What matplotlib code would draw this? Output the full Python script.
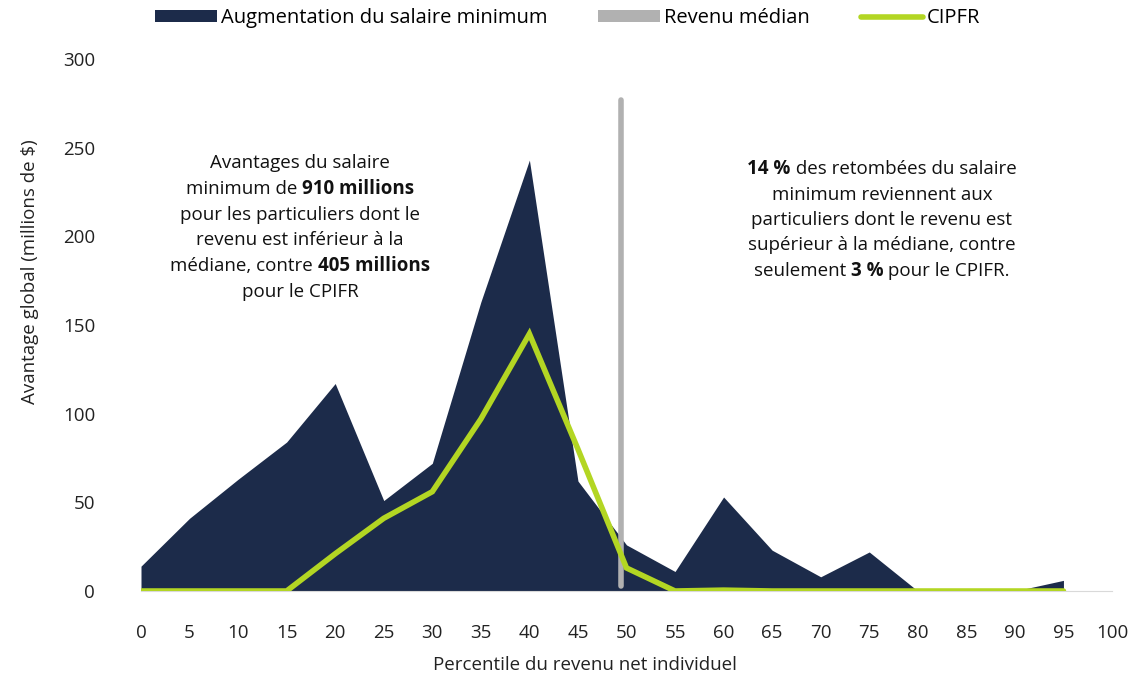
import numpy as np
import matplotlib
matplotlib.use("Agg")
import matplotlib.pyplot as plt
from matplotlib.offsetbox import TextArea, HPacker, VPacker, AnnotationBbox
from matplotlib.patches import Patch
from matplotlib.lines import Line2D

matplotlib.rcParams['font.family'] = ['Open Sans', 'DejaVu Sans']
matplotlib.rcParams['font.size'] = 13.5

# percentiles
pct = [0, 5, 10, 15, 20, 25, 30, 35, 40, 45, 50, 55, 60, 65, 70, 75, 80, 85, 90, 95]
# minimum wage benefit (millions $)
salaire_min = [14, 41, 63, 84, 117, 51, 72, 163, 243, 62, 26, 11, 53, 23, 8, 22, 0, 1, 0, 6]
# CIPFR benefit
cipfr = [0, 0, 0, 0, 21, 41, 56, 97, 145, 80, 13, 0, 0.5, 0, 0, 0, 0, 0, 0, 0]
median_pct = 49.4
median_span = (3, 277)

navy = '#1c2b4a'
green = '#b3d623'
grey = '#b1b1b1'
fs = 13.5

fig = plt.figure(figsize=(11.42, 6.76), dpi=100)
ax = fig.add_axes([141/1142, 1 - 591/676, (1112-141)/1142, (591-59)/676])

ax.fill_between(pct, salaire_min, 0, color=navy, linewidth=0, zorder=1)
ax.plot([median_pct, median_pct], median_span, color=grey, linewidth=4,
        solid_capstyle='round', zorder=2)
ax.plot(pct, cipfr, color=green, linewidth=4, solid_capstyle='round',
        solid_joinstyle='miter', zorder=3)

ax.set_xlim(0, 100)
ax.set_ylim(0, 300)
ax.set_xticks(np.arange(0, 101, 5))
ax.set_yticks(np.arange(0, 301, 50))
ax.tick_params(length=0, labelsize=fs, colors='#222222')
ax.tick_params(axis='x', pad=23.5)
ax.tick_params(axis='y', pad=33)
for s in ['top', 'right', 'left']:
    ax.spines[s].set_visible(False)
ax.spines['bottom'].set_color('#d9d9d9')
ax.spines['bottom'].set_linewidth(0.8)

ax.set_xlabel("Percentile du revenu net individuel", fontsize=fs, color='#222222')
ax.xaxis.set_label_coords(0.457, -0.122)
ax.set_ylabel("Avantage global (millions de \\$)", fontsize=fs, color='#222222')
ax.yaxis.set_label_coords(-0.105, 0.60)


def rich_block(lines, x, y):
    rows = []
    for parts in lines:
        boxes = [TextArea(t, textprops=dict(fontsize=fs, color='#111111',
                                            fontweight='bold' if b else 'normal'))
                 for t, b in parts]
        rows.append(HPacker(children=boxes, align='baseline', pad=0, sep=0))
    box = VPacker(children=rows, align='center', pad=0, sep=5)
    ab = AnnotationBbox(box, (x, y), xycoords='data', frameon=False,
                        box_alignment=(0.5, 0.5))
    ax.add_artist(ab)


rich_block([
    [("Avantages du salaire", False)],
    [("minimum de ", False), ("910 millions", True)],
    [("pour les particuliers dont le", False)],
    [("revenu est inférieur à la", False)],
    [("médiane, contre ", False), ("405 millions", True)],
    [("pour le CPIFR", False)],
], 16.4, 205)

rich_block([
    [("14 %", True), (" des retombées du salaire", False)],
    [("minimum reviennent aux", False)],
    [("particuliers dont le revenu est", False)],
    [("supérieur à la médiane, contre", False)],
    [("seulement ", False), ("3 %", True), (" pour le CPIFR.", False)],
], 76.3, 209)

handles = [Patch(facecolor=navy, edgecolor='none'),
           Patch(facecolor=grey, edgecolor='none'),
           Line2D([0], [0], color=green, linewidth=4, solid_capstyle='round')]
labels = ["Augmentation du salaire minimum", "Revenu médian", "CIPFR"]
fig.legend(handles, labels, loc='center', bbox_to_anchor=(0.497, 0.973), ncol=3,
           frameon=False, fontsize=14.5, handlelength=3.1, handleheight=0.5,
           handletextpad=0.2, columnspacing=2.5)

fig.savefig("out.png", dpi=100)
